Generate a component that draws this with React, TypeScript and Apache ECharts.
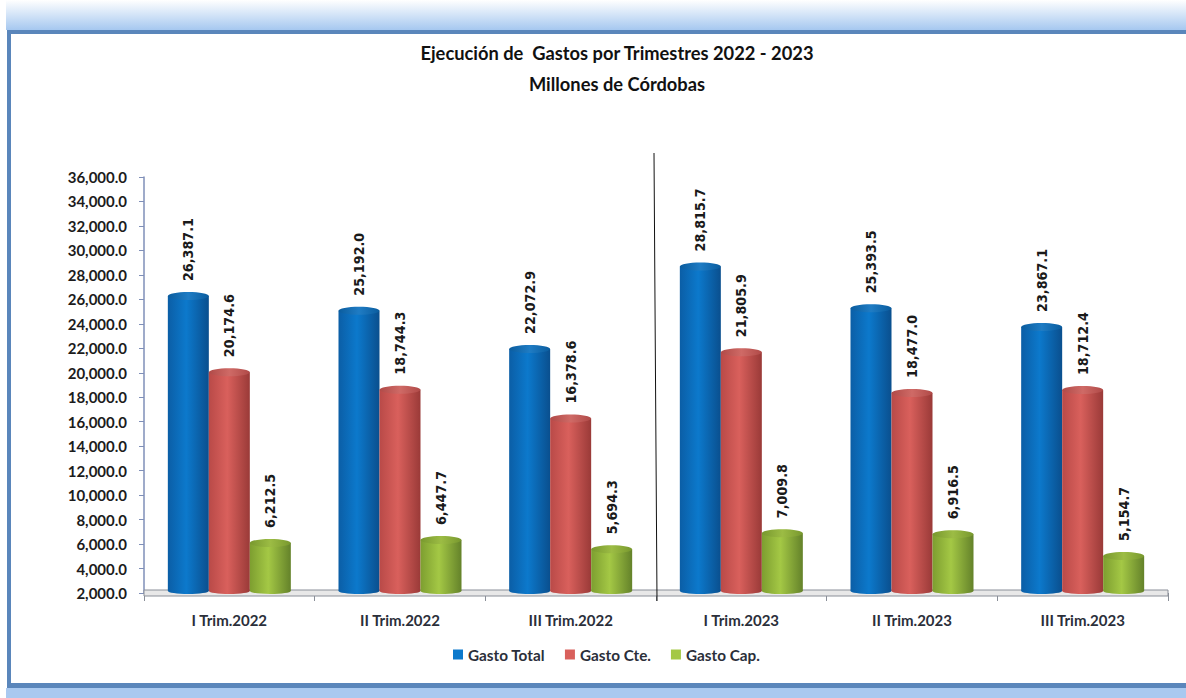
import React, { useEffect, useRef } from "react";
import * as echarts from "echarts";

const categories = ["I Trim.2022", "II Trim.2022", "III Trim.2022", "I Trim.2023", "II Trim.2023", "III Trim.2023"];
const gastoTotal = [26387.1, 25192.0, 22072.9, 28815.7, 25393.5, 23867.1];
const gastoCte = [20174.6, 18744.3, 16378.6, 21805.9, 18477.0, 18712.4];
const gastoCap = [6212.5, 6447.7, 5694.3, 7009.8, 6916.5, 5154.7];
const FONT = "Lato,'Noto Sans',sans-serif";
const LABEL_FONT = "'DejaVu Sans Condensed','DejaVu Sans',sans-serif";

const fmt = (v: number) => v.toLocaleString("en-US", { minimumFractionDigits: 1, maximumFractionDigits: 1 });
const BAR_W = 41;

const grad = (c: string[]) => new echarts.graphic.LinearGradient(0, 0, 1, 0, [
  { offset: 0, color: c[0] }, { offset: 0.45, color: c[1] }, { offset: 1, color: c[2] },
]);
const capGrad = (c: string[]) => new echarts.graphic.LinearGradient(0, 0, 1, 0, [
  { offset: 0, color: c[3] }, { offset: 0.5, color: c[4] }, { offset: 1, color: c[3] },
]);

const makeSeries = (name: string, data: number[], offset: number, c: string[]) => ({
  name,
  type: "custom",
  coordinateSystem: "cartesian2d",
  itemStyle: { color: c[1] },
  encode: { x: 0, y: 1 },
  data: data.map((v, i) => [i, v]),
  z: 3,
  renderItem: (_p: any, api: any) => {
    const [cx, rawTop] = api.coord([api.value(0), api.value(1)]);
    const [, base] = api.coord([api.value(0), 2000]);
    const top = rawTop - 2.5;
    const x = cx + offset - BAR_W / 2;
    const mid = x + BAR_W / 2;
    return {
      type: "group",
      children: [
        { type: "ellipse", shape: { cx: mid, cy: base - 2, rx: BAR_W / 2, ry: 3 }, style: { fill: grad(c) } },
        { type: "rect", shape: { x, y: top + 4, width: BAR_W, height: base - top - 6 }, style: { fill: grad(c) } },
        { type: "ellipse", shape: { cx: mid, cy: top + 4, rx: BAR_W / 2, ry: 4 }, style: { fill: capGrad(c) } },
        {
          type: "text",
          rotation: Math.PI / 2,
          x: mid,
          y: top - 11,
          style: {
            text: fmt(api.value(1)),
            font: `bold 14.2px ${LABEL_FONT}`,
            fill: "#1a1a1a",
            align: "left",
            verticalAlign: "middle",
          },
        },
      ],
    };
  },
});

const bodyBlue = ["#0b5ea6", "#0c79cc", "#0a4f8e", "#0a5c9e", "#1f7cc4"];
const bodyRed = ["#b94a48", "#d9605c", "#9a3a38", "#b04a48", "#cf6a66"];
const bodyGreen = ["#7d9e30", "#a4c845", "#64822a", "#78982e", "#9cbc44"];

export default function App() {
  const ref = useRef<HTMLDivElement>(null);
  useEffect(() => {
    document.body.style.margin = "0";
    const chart = echarts.init(ref.current!, undefined, { renderer: "svg" });
    chart.setOption({
      animation: false,
      backgroundColor: "#ffffff",
      title: [
        { text: "Ejecución de  Gastos por Trimestres 2022 - 2023", left: 612, top: 39, textAlign: "center",
          textStyle: { fontFamily: FONT, fontSize: 18.3, fontWeight: "bold", color: "#111" } },
        { text: "Millones de Córdobas", left: 612, top: 70, textAlign: "center",
          textStyle: { fontFamily: FONT, fontSize: 18.3, fontWeight: "bold", color: "#111" } },
      ],
      legend: {
        top: 642, left: 448, itemWidth: 10, itemHeight: 10, itemGap: 20,
        textStyle: { fontFamily: FONT, fontSize: 15.3, fontWeight: "bold", color: "#2b2f3a" },
        data: [
          { name: "Gasto Total", icon: "rect" },
          { name: "Gasto Cte.", icon: "rect" },
          { name: "Gasto Cap.", icon: "rect" },
        ],
      },
      grid: { left: 144, top: 177, width: 1024, height: 416 },
      xAxis: {
        type: "category", data: categories,
        axisLine: { lineStyle: { color: "#8a8f98" } },
        axisTick: { show: true, alignWithLabel: false, length: 8, lineStyle: { color: "#8a8f98" } },
        axisLabel: { fontFamily: FONT, fontSize: 15, fontWeight: "bold", color: "#2b2f3a", margin: 19 },
        splitLine: { show: false },
      },
      yAxis: {
        type: "value", min: 2000, max: 36000, interval: 2000,
        axisLine: { show: true, lineStyle: { color: "#7f8fb8", width: 1.5 } },
        axisTick: { show: true, length: 5, lineStyle: { color: "#7f8fb8" } },
        axisLabel: { fontFamily: FONT, fontSize: 15, fontWeight: "bold", color: "#1c1c1c",
          margin: 17, formatter: (v: number) => fmt(v) },
        splitLine: { show: false },
      },
      series: [
        makeSeries("Gasto Total", gastoTotal, -41, bodyBlue),
        makeSeries("Gasto Cte.", gastoCte, 0, bodyRed),
        makeSeries("Gasto Cap.", gastoCap, 41, bodyGreen),
      ],
      graphic: [
        { type: "rect", z: -1, shape: { x: 6, y: 0, width: 1180, height: 30 },
          style: { fill: new echarts.graphic.LinearGradient(0, 0, 0, 1, [
            { offset: 0, color: "#ffffff" }, { offset: 1, color: "#a6c8f0" }]) } },
        { type: "rect", z: -1, shape: { x: 6, y: 688, width: 1180, height: 10 }, style: { fill: "#a9c9f0" } },
        { type: "rect", z: -1, shape: { x: 7, y: 30, width: 1179, height: 4 }, style: { fill: "#5a86bb" } },
        { type: "rect", z: -1, shape: { x: 7, y: 683, width: 1179, height: 5 }, style: { fill: "#5a86bb" } },
        { type: "rect", z: -1, shape: { x: 7, y: 30, width: 4, height: 658 }, style: { fill: "#5a86bb" } },
        { type: "rect", z: 1, shape: { x: 144, y: 590, width: 1024, height: 6 },
          style: { fill: "#e8e8e8", stroke: "#8a8f98", lineWidth: 1 } },
        { type: "line", z: 5, shape: { x1: 654, y1: 153, x2: 657, y2: 601 },
          style: { stroke: "#111", lineWidth: 1 } },
      ],
    });
    return () => chart.dispose();
  }, []);
  return <div ref={ref} style={{ width: 1186, height: 698 }} />;
}
